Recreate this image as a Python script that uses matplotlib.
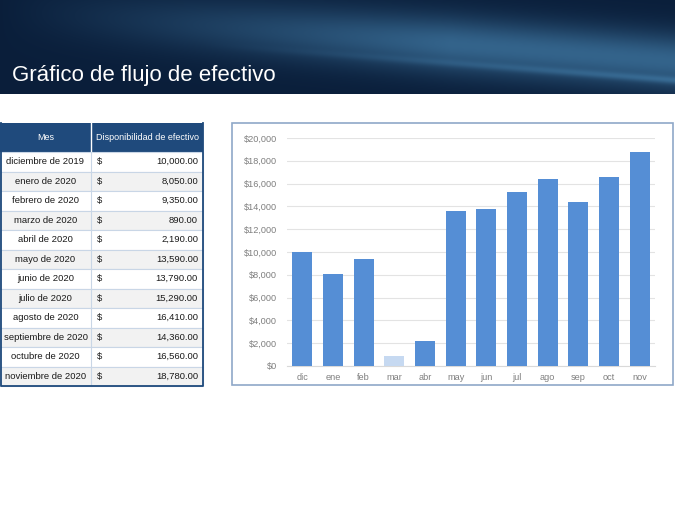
import numpy as np
import matplotlib
matplotlib.use('Agg')
import matplotlib.pyplot as plt
from matplotlib.patches import Rectangle
from matplotlib.ticker import FuncFormatter

# data
meses = ['diciembre de 2019', 'enero de 2020', 'febrero de 2020', 'marzo de 2020',
         'abril de 2020', 'mayo de 2020', 'junio de 2020', 'julio de 2020',
         'agosto de 2020', 'septiembre de 2020', 'octubre de 2020', 'noviembre de 2020']
etiquetas = ['dic', 'ene', 'feb', 'mar', 'abr', 'may', 'jun', 'jul', 'ago', 'sep', 'oct', 'nov']
efectivo = [10000, 8050, 9350, 890, 2190, 13590, 13790, 15290, 16410, 14360, 16560, 18780]
titulo = 'Gráfico de flujo de efectivo'

plt.rcParams['font.family'] = ['Liberation Sans', 'DejaVu Sans']

W, H = 675, 520
fig = plt.figure(figsize=(W / 100, H / 100), dpi=100)
fig.patch.set_facecolor('white')

# banner with a blue gradient
ban = fig.add_axes([0, 1 - 94 / H, 1, 94 / H])
ny, nx = 94, 675
yy, xx = np.mgrid[0:ny, 0:nx]
u = xx / nx
v = yy / ny
dark = np.array([0.04, 0.12, 0.23])
light = np.array([0.22, 0.42, 0.58])
band = np.exp(-((v - (0.1 + 0.55 * u)) / 0.3) ** 2) * np.clip(u * 1.5, 0, 1)
streak = np.exp(-((v - (0.3 + 0.55 * u)) / 0.04) ** 2) * np.clip(u - 0.3, 0, 1) * 0.6
t = np.clip(band * 0.9 + streak, 0, 1)
img = dark + (light - dark) * t[..., None]
ban.imshow(img, aspect='auto', extent=[0, nx, ny, 0])
ban.set_axis_off()
ban.text(12, 81, titulo, color='white', fontsize=16, va='baseline')

# overlay for table and chart frame, pixel coordinates
ov = fig.add_axes([0, 0, 1, 1 - 94 / H])
ov.set_xlim(0, W)
ov.set_ylim(H, 94)
ov.set_axis_off()
ov.patch.set_alpha(0)

tx0, tx1, tcol = 0, 203, 91
top, head_h, row_h = 123, 29, 19.5
navy = '#1F4A7C'
ov.add_patch(Rectangle((tx0, top), tx1 - tx0, head_h, facecolor=navy, edgecolor='none'))
ov.plot([tcol, tcol], [top, top + head_h], color='white', lw=1)
ov.text((tx0 + tcol) / 2, top + head_h / 2, 'Mes', color='white', fontsize=6.5,
        ha='center', va='center')
ov.text((tcol + tx1) / 2, top + head_h / 2, 'Disponibilidad de efectivo', color='white',
        fontsize=6.5, ha='center', va='center')
for i, (m, val) in enumerate(zip(meses, efectivo)):
    y0 = top + head_h + i * row_h
    fc = 'white' if i % 2 == 0 else '#F2F2F2'
    ov.add_patch(Rectangle((tx0, y0), tx1 - tx0, row_h, facecolor=fc,
                           edgecolor='#C9D6E6', lw=0.8))
    yc = y0 + row_h / 2
    ov.text((tx0 + tcol) / 2, yc, m, fontsize=6.8, ha='center', va='center', color='#1A1A1A')
    ov.text(97, yc, '$', fontsize=6.8, ha='left', va='center', color='#1A1A1A')
    ov.text(198, yc, f'{val:,.2f}', fontsize=6.8, ha='right', va='center', color='#1A1A1A')
bot = top + head_h + len(meses) * row_h
ov.plot([tcol, tcol], [top + head_h, bot], color='#C9D6E6', lw=0.8)
ov.plot([tx0 + 0.5, tx0 + 0.5, tx1, tx1], [top, bot, bot, top], color=navy, lw=1.3)

# chart frame
ov.add_patch(Rectangle((232, 123), 441, 262, facecolor='white', edgecolor='#8FA8C8', lw=1.2,
                       zorder=0))

# bar chart
ax = fig.add_axes([287 / W, (H - 366) / H, (655 - 287) / W, (366 - 138) / H])
x = np.arange(len(etiquetas))
colores = ['#C6D9F1' if e == 'mar' else '#558ED5' for e in etiquetas]
ax.bar(x, efectivo, width=0.66, color=colores, zorder=3)
ax.set_xlim(-0.5, len(etiquetas) - 0.5)
ax.set_ylim(0, 20000)
ax.set_yticks(np.arange(0, 20001, 2000))
ax.yaxis.set_major_formatter(FuncFormatter(lambda v, p: f'${v:,.0f}'))
ax.set_xticks(x)
ax.set_xticklabels(etiquetas)
ax.grid(axis='y', color='#E3E3E3', lw=0.8, zorder=0)
for s in ['top', 'right', 'left']:
    ax.spines[s].set_visible(False)
ax.spines['bottom'].set_color('#D9D9D9')
ax.tick_params(axis='both', length=0, labelsize=6.6, labelcolor='#7F7F7F')
ax.tick_params(axis='y', pad=7)
ax.tick_params(axis='x', pad=5)
ax.set_facecolor('white')

fig.savefig('out.png', dpi=100)
